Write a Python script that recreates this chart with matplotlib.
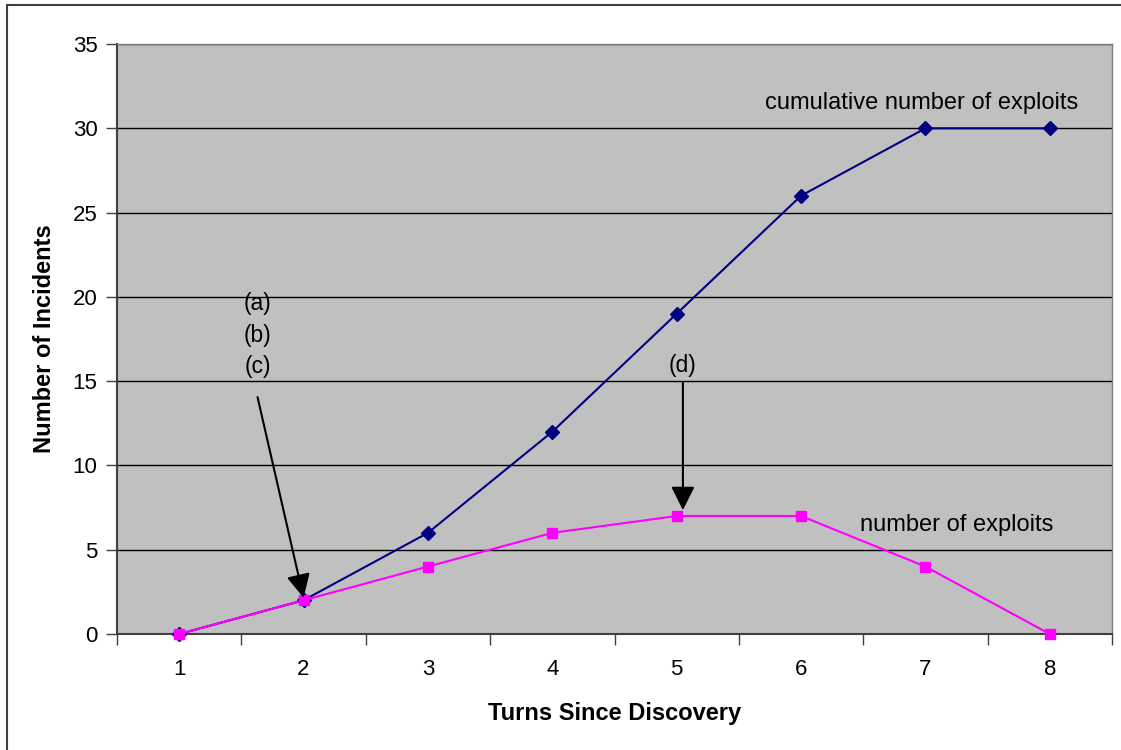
import matplotlib.pyplot as plt
from matplotlib.patches import Rectangle

turns = [1, 2, 3, 4, 5, 6, 7, 8]
cumulative = [0, 2, 6, 12, 19, 26, 30, 30]
exploits = [0, 2, 4, 6, 7, 7, 4, 0]
yticks = [0, 5, 10, 15, 20, 25, 30, 35]

plt.rcParams['font.family'] = ['Liberation Sans', 'DejaVu Sans']

fig = plt.figure(figsize=(11.21, 7.5), dpi=100)
# outer chart border (only left and top visible in the original)
fig.patches.append(Rectangle((7 / 1121, -0.1), 1.2, 1 - 5 / 750 + 0.1,
                             transform=fig.transFigure, fill=False,
                             edgecolor='#404040', linewidth=1.5))

ax = fig.add_axes([117 / 1121, 1 - 634 / 750, (1112 - 117) / 1121, (634 - 44) / 750])
ax.set_facecolor('#C0C0C0')

# grid
for y in yticks[1:]:
    ax.axhline(y, color='black', linewidth=1, zorder=1)

ax.plot(turns, cumulative, color='#000080', marker='D', markersize=7.5,
        linewidth=1.5, zorder=3, clip_on=False)
ax.plot(turns, exploits, color='#FF00FF', marker='s', markersize=7.5,
        linewidth=1.5, zorder=4, clip_on=False)

ax.set_xlim(0.5, 8.5)
ax.set_ylim(0, 35)

# excel style category axis: ticks at boundaries, labels at centres
ax.set_xticks([t + 0.5 for t in [0] + turns], minor=False)
ax.set_xticklabels([])
ax.set_xticks(turns, minor=True)
ax.set_xticklabels([str(t) for t in turns], minor=True)
ax.tick_params(axis='x', which='major', direction='out', length=8, width=1, color='#404040')
ax.tick_params(axis='x', which='minor', length=0, pad=18, labelsize=16)
ax.set_yticks(yticks)
ax.tick_params(axis='y', direction='out', length=8, width=1, color='#404040', pad=6, labelsize=16)

for s in ['left', 'bottom']:
    ax.spines[s].set_color('#404040')
    ax.spines[s].set_linewidth(1.5)
for s in ['top', 'right']:
    ax.spines[s].set_color('#808080')
    ax.spines[s].set_linewidth(1)

ax.set_xlabel('Turns Since Discovery', fontsize=17, fontweight='bold', labelpad=16)
ax.set_ylabel('Number of Incidents', fontsize=17, fontweight='bold', labelpad=12)

# series labels
ax.text(6.97, 31.5, 'cumulative number of exploits', fontsize=17, ha='center', va='center')
ax.text(7.25, 6.45, 'number of exploits', fontsize=17, ha='center', va='center')

# annotations
ax.text(1.63, 19.63, '(a)', fontsize=16.5, ha='center', va='center')
ax.text(1.63, 17.73, '(b)', fontsize=16.5, ha='center', va='center')
ax.text(1.63, 15.84, '(c)', fontsize=16.5, ha='center', va='center')
ax.text(5.05, 15.95, '(d)', fontsize=16.5, ha='center', va='center')

arrow = dict(arrowstyle='-|>,head_length=0.72,head_width=0.36', mutation_scale=20,
             color='black', lw=1.5, shrinkA=0, shrinkB=0)
ax.annotate('', xy=(2.0, 2.15), xytext=(1.63, 14.05), arrowprops=arrow, zorder=5)
ax.annotate('', xy=(5.05, 7.35), xytext=(5.05, 14.95), arrowprops=arrow, zorder=5)

fig.savefig('out.png', dpi=100)
